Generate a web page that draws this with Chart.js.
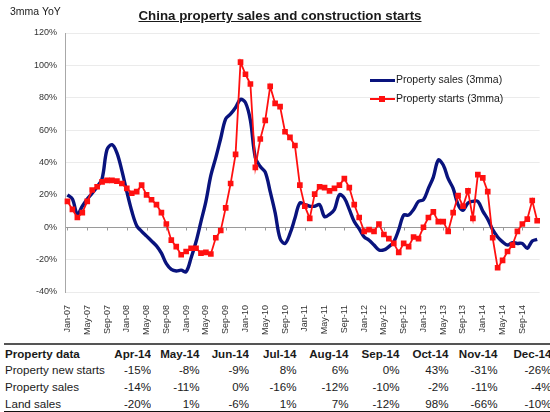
<!DOCTYPE html>
<html>
<head>
<meta charset="utf-8">
<title>China property sales and construction starts</title>
<script src="https://cdn.jsdelivr.net/npm/chart.js@4.4.1/dist/chart.umd.min.js"></script>
<style>
  html, body { margin: 0; padding: 0; background: #fff; overflow: hidden; }
  body { width: 550px; height: 412px; position: relative; font-family: "Liberation Sans", Arial, sans-serif; color: #1a1a1a; }
  #wrap { position: absolute; left: 0; top: 0; width: 553px; height: 341px; }
  #unit { position: absolute; left: 10px; top: 5px; font-size: 10.5px; }
  #title { position: absolute; left: 80px; top: 8px; width: 400px; text-align: center; font-size: 13.3px; font-weight: bold; text-decoration: underline; white-space: nowrap; }
  #legend { position: absolute; left: 370px; top: 70px; font-size: 10.5px; }
  #legend .item { height: 19px; line-height: 19px; white-space: nowrap; }
  #legend .swatch { display: inline-block; position: relative; width: 25px; vertical-align: middle; margin-right: 1px; }
  #legend .swatch i { position: absolute; left: 9px; top: 50%; width: 6px; height: 6px; margin-top: -3px; }
  #data { position: absolute; left: 4px; top: 343px; border-collapse: collapse; table-layout: fixed; font-size: 11.6px; border-top: 2px solid #555; border-bottom: 2px solid #111; }
  #data td, #data th { height: 16.6px; padding: 0; text-align: right; white-space: nowrap; overflow: hidden; }
  #data th { font-weight: bold; }
  #data .lbl { text-align: left; padding-left: 1px; }
</style>
</head>
<body>
<div id="wrap"><canvas id="chart"></canvas></div>
<div id="unit">3mma YoY</div>
<div id="title">China property sales and construction starts</div>
<div id="legend"></div>
<table id="data"></table>
<script>
// monthly categories Jan-07 .. Dec-14
const monthNames = ['Jan','Feb','Mar','Apr','May','Jun','Jul','Aug','Sep','Oct','Nov','Dec'];
const years = ['07','08','09','10','11','12','13','14'];
const months = [];
years.forEach(y => monthNames.forEach(m => months.push(m + '-' + y)));

// property sales, 3mma YoY %
const salesYoY = [
  20, 17.5, 8, 13, 17.5, 21, 25, 30, 48, 51, 46, 35,
  22, 10, 1, -2.5, -5.5, -8.5, -11.5, -16, -22.5, -26, -27, -26.5,
  -27.5, -19, -9, 3.5, 16, 32, 43, 55, 67, 70, 74, 79,
  77, 66, 43, 37.5, 34, 22, 9, -7, -10, -4, 5.5, 15,
  14, 13, 13, 14, 6.5, 8, 11, 20, 18, 11, 3.5, -1,
  -6, -8, -11, -14, -14, -12, -9, -1.5, 7.5, 7.5, 11, 16,
  17, 24, 31, 41.5, 38.5, 30, 24, 14, 10.5, 15, 16, 16,
  10, 5, -1.5, -6, -9, -11, -9.5, -10, -10, -13, -8.5, -7.5
];

// property new starts, 3mma YoY %
const startsYoY = [
  16, 11, 6, 9, 16, 23, 25, 28, 29, 29, 28.5, 27,
  24, 21, 22, 26, 20, 17, 14, 9, 2, -8, -12, -17,
  -15, -13, -13, -16, -15.5, -16.5, -6.5, -2, 12, 27, 45, 102,
  94.5, 88.5, 37, 54.5, 66, 87, 76.5, 74.5, 59, 55.5, 50.5, 26,
  13, 5.5, 20.5, 25, 24.5, 22.5, 24, 26, 30, 24.5, 14, 6,
  -2.5, -1.5, -2.5, 2, -4.5, -7, -10, -15.5, -10, -12, -6, -7,
  0, 6, 9.5, 3.5, 3.5, -2.5, 9, 19.5, 13, 22.5, 5.5, 32.5,
  30.5, 22, -6.5, -25, -20.5, -15, -11, -2.5, 2, 5, 16.5, 4
];

const yTicks = [-40, -20, 0, 20, 40, 60, 80, 100, 120];

// summary table
const tableHead = 'Property data';
const tableMonths = ['Apr-14','May-14','Jun-14','Jul-14','Aug-14','Sep-14','Oct-14','Nov-14','Dec-14'];
const rowNames = ['Property new starts', 'Property sales', 'Land sales'];
const newStartsRow = [-15, -8, -9, 8, 6, 0, 43, -31, -26];
const salesRow = [-14, -11, 0, -16, -12, -10, -2, -11, -4];
const landRow = [-20, 1, -6, 1, 7, -12, 98, -66, -10];

const colWidths = [101, 46, 48.5, 49.5, 47.5, 52, 51, 49, 49, 54];

// small tick marks on the 0% line, one every 4 months
const zeroLineTicks = {
  id: 'zeroLineTicks',
  beforeDatasetsDraw(chart) {
    const x = chart.scales.x, y = chart.scales.y;
    const y0 = Math.round(y.getPixelForValue(0)) + 0.5;
    const ctx = chart.ctx;
    ctx.save();
    ctx.strokeStyle = '#999';
    ctx.lineWidth = 1;
    ctx.beginPath();
    months.forEach((m, i) => {
      if (i % 4 !== 0) return;
      const px = Math.round(x.getPixelForValue(i)) + 0.5;
      ctx.moveTo(px, y0);
      ctx.lineTo(px, y0 + 3);
    });
    ctx.stroke();
    ctx.restore();
  }
};

const chart = new Chart(document.getElementById('chart'), {
  type: 'line',
  data: {
    labels: months,
    datasets: [{
      label: 'Property sales (3mma)',
      data: salesYoY,
      borderColor: '#09137d',
      backgroundColor: '#09137d',
      borderWidth: 3.4,
      pointRadius: 0,
      tension: 0.35,
      order: 1
    }, {
      label: 'Property starts (3mma)',
      data: startsYoY,
      borderColor: '#ff1010',
      backgroundColor: '#ff1010',
      pointBackgroundColor: '#ff1010',
      pointBorderWidth: 0,
      borderWidth: 1.8,
      pointStyle: 'rect',
      pointRadius: 4,
      tension: 0,
      order: 0
    }]
  },
  options: {
    responsive: true,
    maintainAspectRatio: false,
    animation: false,
    layout: { padding: { top: 33, left: 0, right: 0, bottom: 0 } },
    plugins: { legend: { display: false }, tooltip: { enabled: false } },
    scales: {
      x: {
        offset: true,
        grid: { display: false },
        border: { display: false },
        ticks: {
          autoSkip: false,
          minRotation: 90,
          maxRotation: 90,
          padding: 5,
          color: '#333',
          font: { family: 'Liberation Sans', size: 9 },
          callback: function (v, i) { return i % 4 === 0 ? this.getLabelForValue(v) : ''; }
        },
        afterFit: s => { s.height = 49; }
      },
      y: {
        min: -40,
        max: 120,
        afterBuildTicks: s => { s.ticks = yTicks.map(v => ({ value: v })); },
        ticks: {
          padding: 8,
          color: '#333',
          font: { family: 'Liberation Sans', size: 9 },
          callback: v => v + '%'
        },
        grid: {
          drawTicks: false,
          color: ctx => ctx.tick && ctx.tick.value === 0 ? '#9a9a9a' : '#ebebeb'
        },
        border: { color: '#a8a8a8' },
        afterFit: s => { s.width = 65; }
      }
    }
  },
  plugins: [zeroLineTicks]
});

// legend drawn from the datasets
const legendBox = document.getElementById('legend');
chart.data.datasets.forEach(ds => {
  const row = document.createElement('div');
  row.className = 'item';
  const sw = document.createElement('span');
  sw.className = 'swatch';
  sw.style.height = Math.min(ds.borderWidth, 3) + 'px';
  sw.style.background = ds.borderColor;
  if (ds.pointRadius > 0) {
    const mark = document.createElement('i');
    mark.style.background = ds.pointBackgroundColor;
    sw.appendChild(mark);
  }
  row.appendChild(sw);
  row.appendChild(document.createTextNode(ds.label));
  legendBox.appendChild(row);
});

// data table
const table = document.getElementById('data');
const cg = document.createElement('colgroup');
colWidths.forEach(w => {
  const c = document.createElement('col');
  c.style.width = w + 'px';
  cg.appendChild(c);
});
table.appendChild(cg);
table.style.width = colWidths.reduce((a, b) => a + b, 0) + 'px';

const head = document.createElement('tr');
[tableHead].concat(tableMonths).forEach((t, i) => {
  const th = document.createElement('th');
  th.textContent = t;
  if (i === 0) th.className = 'lbl';
  head.appendChild(th);
});
table.appendChild(head);

[newStartsRow, salesRow, landRow].forEach((vals, r) => {
  const tr = document.createElement('tr');
  const name = document.createElement('td');
  name.className = 'lbl';
  name.textContent = rowNames[r];
  tr.appendChild(name);
  vals.forEach(v => {
    const td = document.createElement('td');
    td.textContent = v + '%';
    tr.appendChild(td);
  });
  table.appendChild(tr);
});
</script>
</body>
</html>
